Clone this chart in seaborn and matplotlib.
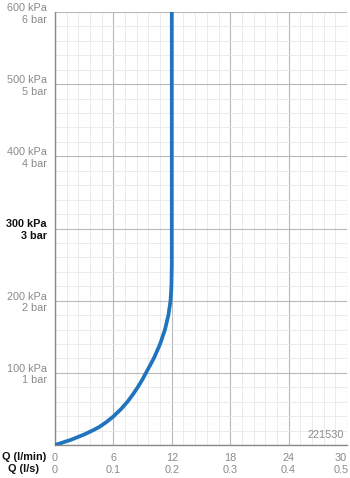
import matplotlib
matplotlib.use("Agg")
import matplotlib.pyplot as plt
import matplotlib.transforms as mtransforms
import seaborn as sns
import numpy as np
import pandas as pd

# Data
pressure_kpa = [0, 7, 14, 20, 25, 32, 39, 50, 60, 70, 80, 90, 100, 120, 140, 160, 180, 200, 220, 250, 300, 400, 500, 600]
flow_lmin = [0, 1.6, 2.9, 3.85, 4.55, 5.3, 5.95, 6.8, 7.45, 8.0, 8.5, 8.95, 9.35, 10.15, 10.8, 11.3, 11.65, 11.87, 11.96, 12.0, 12.0, 12.0, 12.0, 12.0]
x_ticks_lmin = [0, 6, 12, 18, 24, 30]
x_ticks_ls = ["0", "0.1", "0.2", "0.3", "0.4", "0.5"]
y_ticks_kpa = [0, 100, 200, 300, 400, 500, 600]
y_ticks_bar = [0, 1, 2, 3, 4, 5, 6]
code_label = "221530"

sns.set_theme(style="white")
plt.rcParams['font.family'] = ['Liberation Sans', 'DejaVu Sans']

fig = plt.figure(figsize=(3.5, 4.78), dpi=100)
ax = fig.add_axes([55/350, 1-445/478, (347-55)/350, (445-12)/478])

df = pd.DataFrame({"flow": flow_lmin, "pressure": pressure_kpa})
sns.lineplot(data=df, x="flow", y="pressure", sort=False, estimator=None, ax=ax,
             color="#1f74bd", linewidth=2.7, solid_capstyle="butt",
             solid_joinstyle="round", zorder=5)

ax.set_xlim(0, 30)
ax.set_ylim(0, 600)
ax.set_xticks(x_ticks_lmin)
ax.set_xticks(np.arange(0, 30.01, 1.2), minor=True)
ax.set_yticks(y_ticks_kpa)
ax.set_yticks(np.arange(0, 600.1, 20), minor=True)

ax.set_xticklabels([f"{a}\n{b}" for a, b in zip(x_ticks_lmin, x_ticks_ls)],
                   fontsize=7.8, color="#8a8a8a", linespacing=1.2)
ylabels = ["" if p == 0 else f"{p} kPa\n{b} bar" for p, b in zip(y_ticks_kpa, y_ticks_bar)]
ax.set_yticklabels(ylabels, fontsize=7.8, color="#8a8a8a", linespacing=1.2)
for lab, p in zip(ax.get_yticklabels(), y_ticks_kpa):
    if p == 300:
        lab.set_color("#111111")
        lab.set_fontweight("bold")

ax.tick_params(axis="both", which="both", length=0)
ax.tick_params(axis="y", pad=6)
ax.tick_params(axis="x", pad=6)

# nudge the last x label inwards so it stays inside the figure
last = ax.get_xticklabels()[-1]
last.set_transform(last.get_transform() + mtransforms.ScaledTranslation(-6/100, 0, fig.dpi_scale_trans))

ax.grid(which="major", color="#b8b8b8", linewidth=0.8)
ax.grid(which="minor", color="#e8e8e8", linewidth=0.6)
ax.set_axisbelow(True)
for s in ["top", "right"]:
    ax.spines[s].set_visible(False)
for s in ["left", "bottom"]:
    ax.spines[s].set_color("#8a8a8a")
    ax.spines[s].set_linewidth(1.0)

ax.set_xlabel("")
ax.set_ylabel("")

ax.text(0.99, 0.012, code_label, transform=ax.transAxes, ha="right", va="bottom",
        fontsize=7.8, color="#8a8a8a")

fig.text(24/350, 1-457/478, "Q (l/min)", ha="center", va="center",
         fontsize=7.8, fontweight="bold", color="#111111")
fig.text(24/350, 1-469/478, "Q (l/s)", ha="center", va="center",
         fontsize=7.8, fontweight="bold", color="#111111")

fig.savefig("out.png", dpi=100)
